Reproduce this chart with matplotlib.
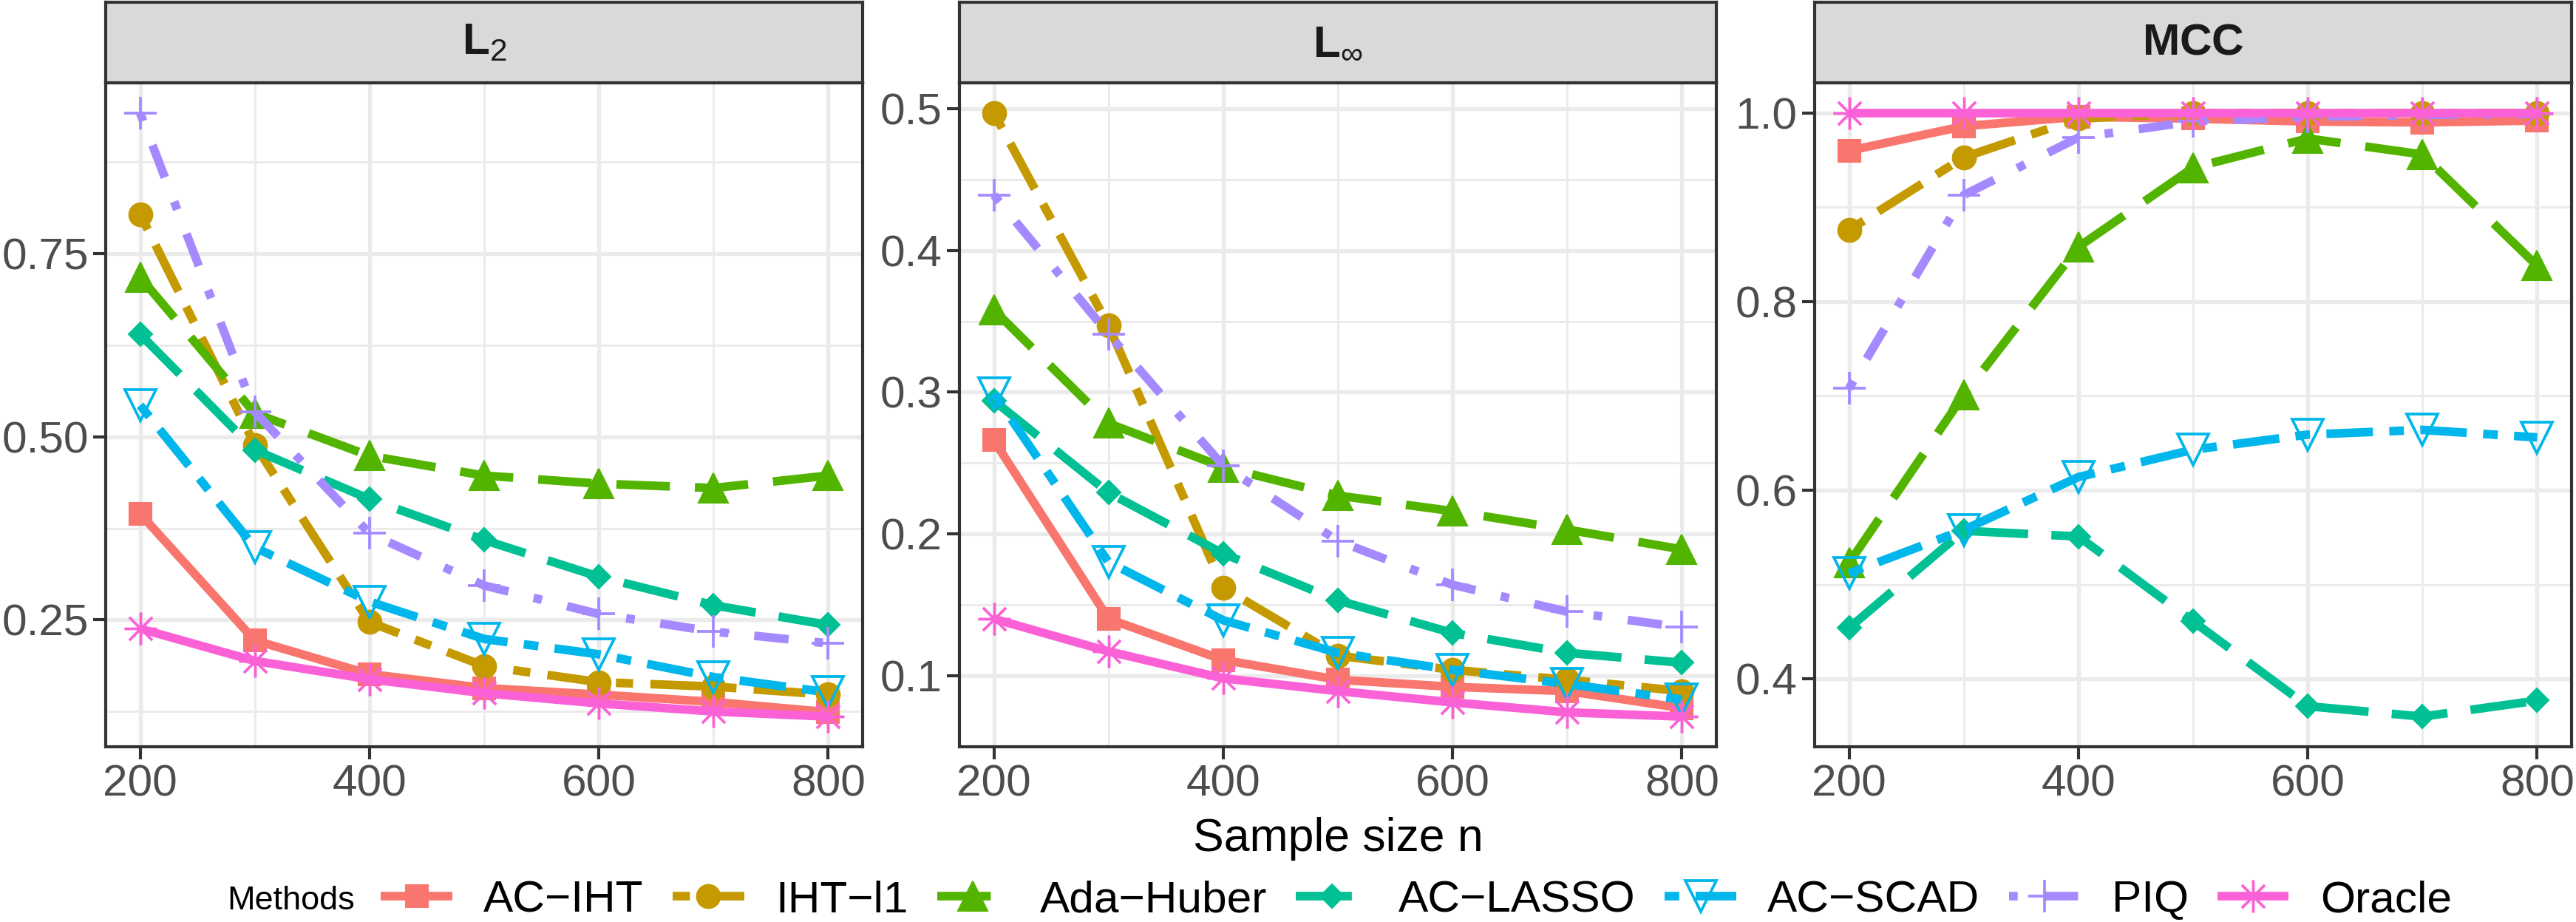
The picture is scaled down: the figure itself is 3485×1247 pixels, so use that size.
import matplotlib
matplotlib.use("Agg")
import matplotlib.pyplot as plt
from matplotlib.lines import Line2D
from matplotlib.path import Path
from matplotlib.ticker import MultipleLocator

plt.rcParams['font.family'] = ['Liberation Sans', 'DejaVu Sans']
plt.rcParams['mathtext.fontset'] = 'custom'
plt.rcParams['mathtext.rm'] = 'Liberation Sans'
plt.rcParams['mathtext.bf'] = 'Liberation Sans:bold'

# data
n = [200, 300, 400, 500, 600, 700, 800]
methods = ['AC\u2212IHT', 'IHT\u2212l1', 'Ada\u2212Huber', 'AC\u2212LASSO', 'AC\u2212SCAD', 'PIQ', 'Oracle']

l2 = {
    'AC\u2212IHT':     [0.395, 0.222, 0.176, 0.157, 0.148, 0.138, 0.124],
    'IHT\u2212l1':     [0.804, 0.489, 0.247, 0.187, 0.165, 0.159, 0.148],
    'Ada\u2212Huber':  [0.718, 0.532, 0.474, 0.447, 0.436, 0.430, 0.447],
    'AC\u2212LASSO':   [0.640, 0.482, 0.415, 0.359, 0.309, 0.270, 0.243],
    'AC\u2212SCAD':    [0.543, 0.349, 0.275, 0.224, 0.203, 0.172, 0.151],
    'PIQ':             [0.942, 0.534, 0.368, 0.297, 0.258, 0.234, 0.218],
    'Oracle':          [0.238, 0.194, 0.169, 0.150, 0.136, 0.125, 0.118],
}
linf = {
    'AC\u2212IHT':     [0.266, 0.140, 0.111, 0.097, 0.092, 0.089, 0.077],
    'IHT\u2212l1':     [0.497, 0.347, 0.162, 0.114, 0.104, 0.097, 0.089],
    'Ada\u2212Huber':  [0.358, 0.278, 0.247, 0.227, 0.216, 0.203, 0.189],
    'AC\u2212LASSO':   [0.294, 0.229, 0.186, 0.153, 0.130, 0.116, 0.109],
    'AC\u2212SCAD':    [0.299, 0.180, 0.139, 0.116, 0.104, 0.094, 0.083],
    'PIQ':             [0.439, 0.341, 0.248, 0.195, 0.164, 0.145, 0.134],
    'Oracle':          [0.140, 0.117, 0.098, 0.089, 0.081, 0.074, 0.071],
}
mcc = {
    'AC\u2212IHT':     [0.960, 0.986, 0.996, 0.994, 0.991, 0.990, 0.992],
    'IHT\u2212l1':     [0.876, 0.953, 0.994, 1.000, 1.000, 1.000, 1.000],
    'Ada\u2212Huber':  [0.523, 0.701, 0.858, 0.942, 0.973, 0.956, 0.838],
    'AC\u2212LASSO':   [0.454, 0.557, 0.551, 0.461, 0.371, 0.360, 0.377],
    'AC\u2212SCAD':    [0.512, 0.558, 0.614, 0.643, 0.659, 0.664, 0.656],
    'PIQ':             [0.708, 0.913, 0.974, 0.991, 0.996, 0.998, 0.999],
    'Oracle':          [1.000, 1.000, 1.000, 1.000, 1.000, 1.000, 1.000],
}

colors = ['#F8766D', '#C49A00', '#53B400', '#00C094', '#00B6EB', '#A58AFF', '#FB61D7']

# R pch 8 style asterisk: + and x overlaid
d = 0.7071
asterisk = Path([(0, -1), (0, 1), (-1, 0), (1, 0), (-d, -d), (d, d), (-d, d), (d, -d)],
                [Path.MOVETO, Path.LINETO] * 4)

# marker, size, edge width, filled
mstyle = [('s', 7.2, 0.5, True),
          ('o', 7.6, 0.5, True),
          ('^', 9.4, 0.5, True),
          ('D', 5.3, 0.5, True),
          ('v', 10.0, 0.9, False),
          ('+', 10.7, 0.9, True),
          (asterisk, 10.6, 0.9, False)]
# dash patterns in units of line width (ggplot-like)
dashes = [None, (2, 2, 6, 2), (6.2, 2.9), (6.5, 2.7), (1.7, 1.9, 5.4, 1.9), (1, 3, 4, 3), None]
LW = 2.8

W, H = 3485, 1247
fig = plt.figure(figsize=(W / 300, H / 300), dpi=300)

panels = [(l2, r'$\mathbf{L}_{\mathrm{2}}$', 0.25, 0.125, '{:.2f}'),
          (linf, r'$\mathbf{L}_{\infty}$', 0.1, 0.05, '{:.1f}'),
          (mcc, r'$\mathbf{MCC}$', 0.2, 0.1, '{:.1f}')]
lefts = [143, 1298, 2455]
pw = 1024
bottom, top, strip_top = 1 - 1010 / H, 1 - 112 / H, 1 - 3 / H


def style_line(ln, i):
    mk, ms, mew, filled = mstyle[i]
    ln.set_marker(mk)
    ln.set_markersize(ms)
    ln.set_markeredgewidth(mew)
    ln.set_markerfacecolor(colors[i] if filled else 'none')
    ln.set_markeredgecolor(colors[i])
    if dashes[i] is not None:
        ln.set_dashes(dashes[i])


for (data, title, major, minor, fmt), lx in zip(panels, lefts):
    ax = fig.add_axes([lx / W, bottom, pw / W, top - bottom])
    for i, m in enumerate(methods):
        ln, = ax.plot(n, data[m], color=colors[i], lw=LW,
                      solid_capstyle='butt', dash_capstyle='butt')
        style_line(ln, i)
    vals = [v for m in methods for v in data[m]]
    lo, hi = min(vals), max(vals)
    pad = (hi - lo) * 0.05
    ax.set_ylim(lo - pad, hi + pad)
    ax.set_xlim(170, 830)
    ax.xaxis.set_major_locator(MultipleLocator(200))
    ax.xaxis.set_minor_locator(MultipleLocator(100))
    ax.yaxis.set_major_locator(MultipleLocator(major))
    ax.yaxis.set_minor_locator(MultipleLocator(minor))
    ax.yaxis.set_major_formatter(lambda v, p, f=fmt: f.format(v))
    ax.grid(which='major', color='#EBEBEB', lw=1.3)
    ax.grid(which='minor', color='#EBEBEB', lw=0.7)
    ax.set_axisbelow(True)
    ax.tick_params(which='major', length=4, width=1.0, color='#333333',
                   labelsize=14.5, labelcolor='#4D4D4D', pad=1.6)
    ax.tick_params(which='minor', length=0)
    for s in ax.spines.values():
        s.set_color('#333333')
        s.set_linewidth(1.0)
    # facet strip
    sx = fig.add_axes([lx / W, top, pw / W, strip_top - top])
    sx.set_facecolor('#D9D9D9')
    sx.set_xticks([])
    sx.set_yticks([])
    for s in sx.spines.values():
        s.set_color('#333333')
        s.set_linewidth(1.0)
    sx.text(0.5, 0.5, title, ha='center', va='center', fontsize=14.5,
            color='#1A1A1A', transform=sx.transAxes)
    if lx == 1298:
        ax.set_xlabel('Sample size n', fontsize=15, labelpad=4)

handles = []
for i, m in enumerate(methods):
    h = Line2D([], [], color=colors[i], lw=LW, solid_capstyle='butt', dash_capstyle='butt')
    style_line(h, i)
    handles.append(h)

leg_y = 1 - 1218 / H
fig.legend(handles, methods, loc='center', bbox_to_anchor=(1916 / W, leg_y),
           ncol=7, frameon=False, fontsize=14.5, handlelength=1.6,
           columnspacing=0.65, handletextpad=0.7)
fig.text(480 / W, leg_y, 'Methods', ha='right', va='center', fontsize=10.8)

fig.savefig('out.png', dpi=300)
